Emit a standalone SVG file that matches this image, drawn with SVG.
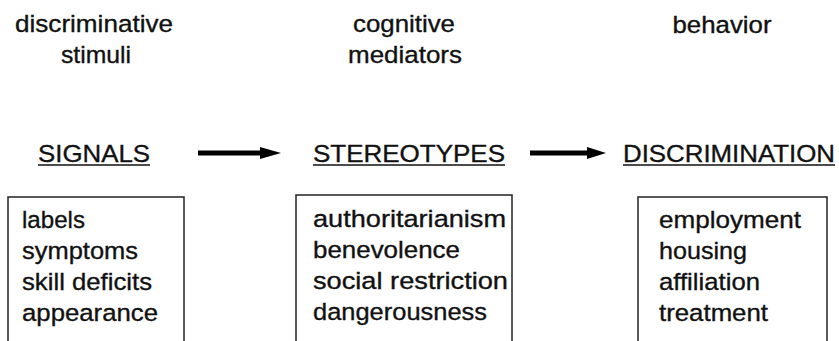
<svg xmlns="http://www.w3.org/2000/svg" width="839" height="341" viewBox="0 0 839 341">
<style>
text{font-family:"Liberation Sans",Arial,sans-serif;font-size:24.5px;fill:#111;stroke:#111;stroke-width:0.35}
.h{text-anchor:middle}
.box{fill:none;stroke:#222;stroke-width:1.5}
.ul{stroke:#111;stroke-width:1.5}
.arr{stroke:#000;stroke-width:5}
</style>
<rect width="839" height="341" fill="#fff"/>
<g id="heading-stimuli">
<text class="h" x="94" y="32" textLength="158" lengthAdjust="spacingAndGlyphs">discriminative</text>
<text class="h" x="96" y="63" textLength="70" lengthAdjust="spacingAndGlyphs">stimuli</text>
</g>
<g id="heading-mediators">
<text class="h" x="404" y="32" textLength="102" lengthAdjust="spacingAndGlyphs">cognitive</text>
<text class="h" x="405" y="63" textLength="114" lengthAdjust="spacingAndGlyphs">mediators</text>
</g>
<g id="heading-behavior">
<text class="h" x="722" y="33" textLength="99" lengthAdjust="spacingAndGlyphs">behavior</text>
</g>
<g id="signals">
<text x="38" y="162" textLength="112" lengthAdjust="spacingAndGlyphs">SIGNALS</text>
<line class="ul" x1="38" y1="165" x2="150" y2="165"/>
<rect class="box" x="8" y="197" width="176" height="150"/>
<text x="22" y="228" textLength="63" lengthAdjust="spacingAndGlyphs">labels</text>
<text x="22" y="259" textLength="116" lengthAdjust="spacingAndGlyphs">symptoms</text>
<text x="22" y="290" textLength="130" lengthAdjust="spacingAndGlyphs">skill deficits</text>
<text x="22" y="321" textLength="136" lengthAdjust="spacingAndGlyphs">appearance</text>
</g>
<g id="stereotypes">
<text x="313" y="162" textLength="192" lengthAdjust="spacingAndGlyphs">STEREOTYPES</text>
<line class="ul" x1="313" y1="165" x2="505" y2="165"/>
<rect class="box" x="296" y="195" width="216" height="152"/>
<text x="313" y="227" textLength="193" lengthAdjust="spacingAndGlyphs">authoritarianism</text>
<text x="313" y="258" textLength="147" lengthAdjust="spacingAndGlyphs">benevolence</text>
<text x="313" y="289" textLength="195" lengthAdjust="spacingAndGlyphs">social restriction</text>
<text x="313" y="320" textLength="174" lengthAdjust="spacingAndGlyphs">dangerousness</text>
</g>
<g id="discrimination">
<text x="623" y="162" textLength="212" lengthAdjust="spacingAndGlyphs">DISCRIMINATION</text>
<line class="ul" x1="623" y1="165" x2="835" y2="165"/>
<rect class="box" x="638" y="197" width="189" height="150"/>
<text x="659" y="228" textLength="142" lengthAdjust="spacingAndGlyphs">employment</text>
<text x="659" y="259" textLength="88" lengthAdjust="spacingAndGlyphs">housing</text>
<text x="659" y="290" textLength="101" lengthAdjust="spacingAndGlyphs">affiliation</text>
<text x="659" y="321" textLength="109" lengthAdjust="spacingAndGlyphs">treatment</text>
</g>
<g id="connectors">
<line class="arr" x1="198" y1="153" x2="262" y2="153"/>
<polygon points="260,147 281,153 260,159" fill="#000"/>
<line class="arr" x1="530" y1="153" x2="589" y2="153"/>
<polygon points="587,147 606,153 587,159" fill="#000"/>
</g>
</svg>
